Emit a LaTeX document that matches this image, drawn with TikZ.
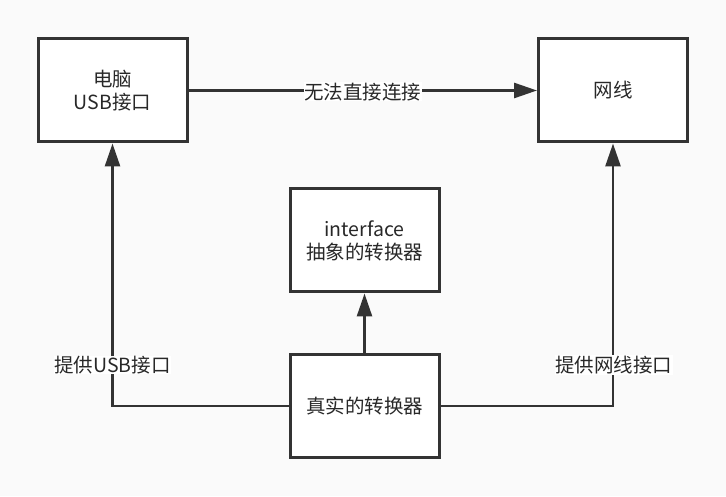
\documentclass[tikz,border=0pt]{standalone}
\usepackage{fontspec}
\setmainfont{Noto Sans CJK SC}
\usetikzlibrary{arrows.meta}
\definecolor{bgc}{RGB}{250,250,250}
\definecolor{ink}{RGB}{51,51,51}
\definecolor{txt}{RGB}{40,40,40}
\begin{document}
\begin{tikzpicture}[x=1pt,y=1pt,
  box/.style={draw=ink,line width=3pt,fill=white,minimum width=149pt,minimum height=103pt,inner sep=0pt,align=center,text=txt,font=\fontsize{19.5}{23}\selectfont},
  conn/.style={draw=ink,line width=2.7pt,-{Triangle[length=23pt,width=15pt]}},
  lbl/.style={fill=white,inner sep=0.5pt,text=txt,font=\fontsize{19.5}{23}\selectfont}]
\fill[bgc] (0,0) rectangle (726,496);
\useasboundingbox (0,0) rectangle (726,496);
\node[box] (A) at (112.5,405.5) {电脑\\USB接口};
\node[box] (B) at (613,405.5) {网线};
\node[box] (C) at (364.5,255.5) {interface\\抽象的转换器};
\node[box] (D) at (364.5,90) {真实的转换器};
\draw[conn] (A.east) -- node[lbl,yshift=-1.5pt]{无法直接连接} (B.west);
\draw[conn] (D.north) -- (C.south);
\draw[conn] (D.west) -| (A.south);
\draw[conn] (D.east) -| (B.south);
\node[lbl] (LA) at (112.5,131) {提供USB接口};
\node[lbl] (LB) at (613.5,131) {提供网线接口};
\end{tikzpicture}
\end{document}
